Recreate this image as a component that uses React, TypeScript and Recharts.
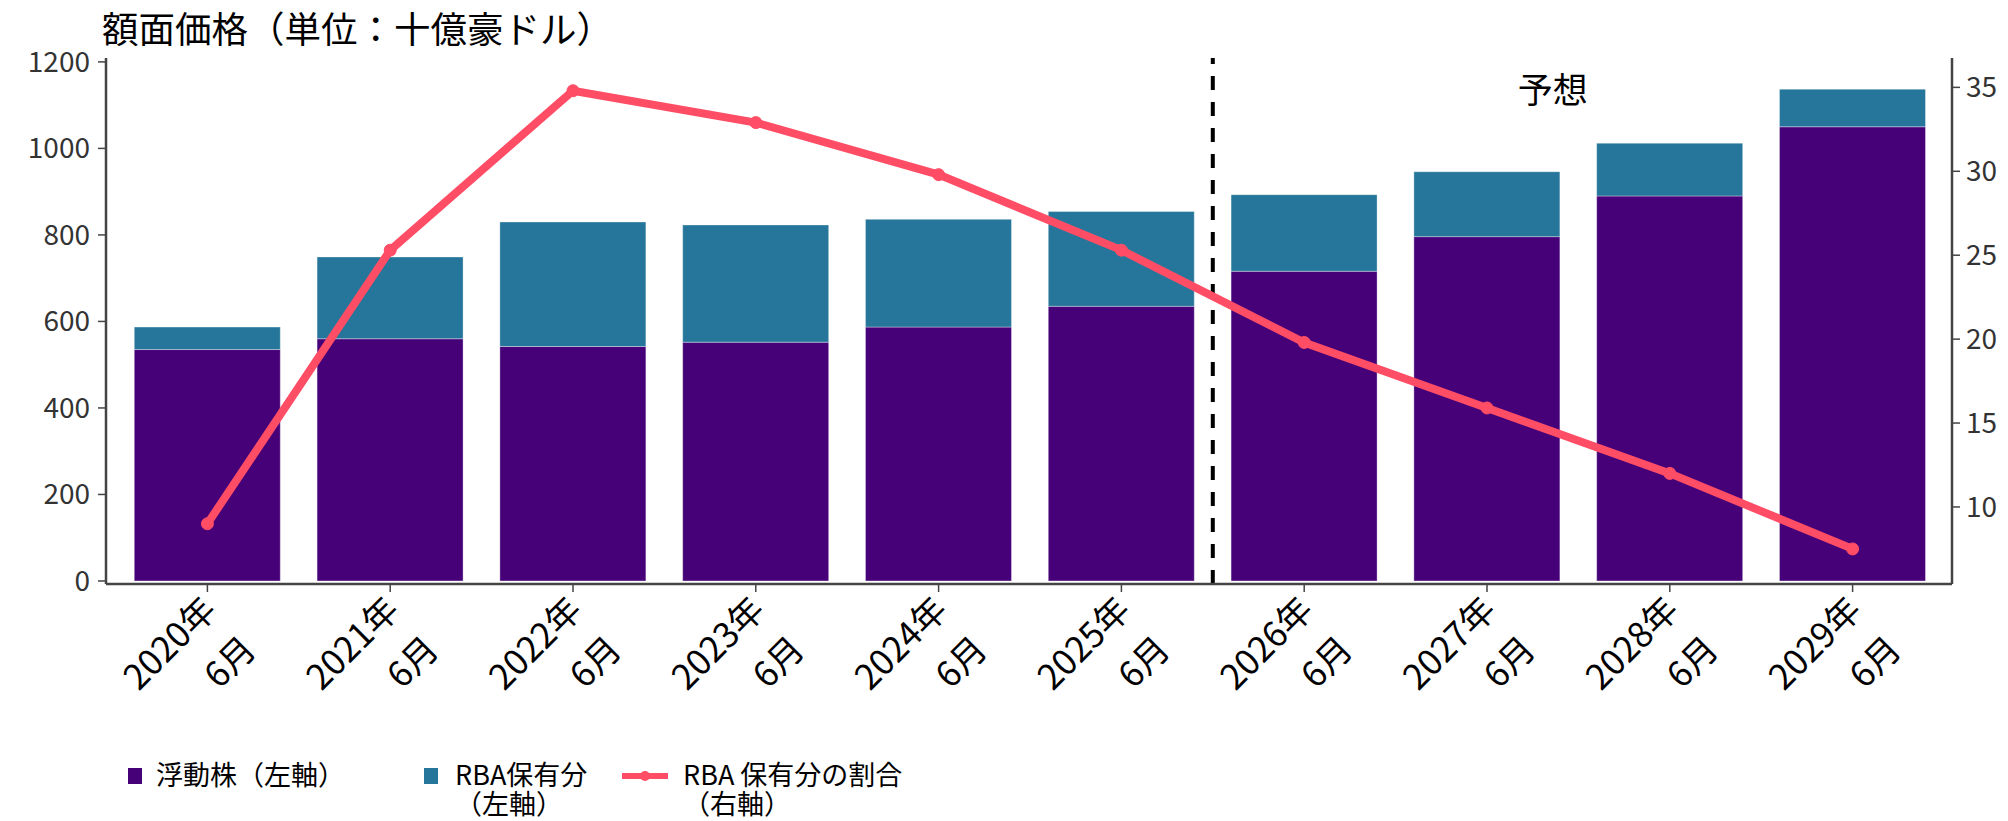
import React from 'react';
import {
  ComposedChart,
  Bar,
  Line,
  XAxis,
  YAxis,
  ReferenceLine,
} from 'recharts';

const categories = ['2020-06', '2021-06', '2022-06', '2023-06', '2024-06', '2025-06', '2026-06', '2027-06', '2028-06', '2029-06'];
const yearLabels = ['2020年', '2021年', '2022年', '2023年', '2024年', '2025年', '2026年', '2027年', '2028年', '2029年'];
const monthLabels = ['6月', '6月', '6月', '6月', '6月', '6月', '6月', '6月', '6月', '6月'];
const floatValues = [535, 560, 542, 552, 587, 635, 716, 796, 890, 1050];
const rbaValues = [52, 189, 288, 271, 249, 219, 177, 150, 122, 87];
const rbaShareValues = [9.0, 25.3, 34.8, 32.9, 29.8, 25.3, 19.8, 15.9, 12.0, 7.5];
const leftTicks = [0, 200, 400, 600, 800, 1000, 1200];
const rightTicks = [10, 15, 20, 25, 30, 35];
const forecastStart = '2026-06';

const titleText = '額面価格（単位：十億豪ドル）';
const forecastText = '予想';
const legendFloat = '浮動株（左軸）';
const legendRba = ['RBA保有分', '（左軸）'];
const legendShare = ['RBA 保有分の割合', '（右軸）'];

const PURPLE = '#460078';
const TEAL = '#25769A';
const RED = '#FF4D66';
const AXIS = '#444444';
const FONT = '"Noto Sans CJK JP", "Noto Sans", sans-serif';

const data = categories.map((c, i) => ({
  category: c,
  float: floatValues[i],
  rba: rbaValues[i],
  share: rbaShareValues[i],
}));

const XTick = (props: any) => {
  const { x, y, index } = props;
  return (
    <g transform={`translate(${x + 11},${y + 18})`}>
      <text transform="rotate(-45)" textAnchor="end" fontSize={35} fill="#000" fontFamily={FONT}>
        <tspan x={0} y={0}>{yearLabels[index]}</tspan>
        <tspan x={0} y={56}>{monthLabels[index]}</tspan>
      </text>
    </g>
  );
};

const ForecastLabel = (props: any) => {
  const vb = props.viewBox || {};
  return (
    <text x={vb.x + 340} y={vb.y + 29} textAnchor="middle" dominantBaseline="central" fontSize={35} fill="#000" fontFamily={FONT}>
      {forecastText}
    </text>
  );
};

export default function App() {
  return (
    <div style={{ position: 'absolute', left: 0, top: 0, width: 2008, height: 821, background: '#fff', fontFamily: FONT }}>
      <div style={{ position: 'absolute', left: 102, top: 9, fontSize: 36.5, lineHeight: '38px', color: '#000', whiteSpace: 'nowrap' }}>
        {titleText}
      </div>
      <ComposedChart
        width={2008}
        height={821}
        data={data}
        margin={{ top: 58, right: 0, bottom: 117, left: 26 }}
        barCategoryGap="10%"
        style={{ fontFamily: FONT }}
      >
        <XAxis
          xAxisId="cat"
          dataKey="category"
          interval={0}
          tick={<XTick />}
          tickSize={8}
          height={120}
          padding={{ left: 10, right: 8 }}
          axisLine={{ stroke: AXIS, strokeWidth: 2.5 }}
          tickLine={{ stroke: AXIS, strokeWidth: 1.5 }}
        />
        <YAxis
          yAxisId="left"
          orientation="left"
          width={80}
          domain={[-7, 1209]}
          ticks={leftTicks}
          interval={0}
          tickSize={8}
          tickMargin={8}
          axisLine={{ stroke: AXIS, strokeWidth: 2.5 }}
          tickLine={{ stroke: AXIS, strokeWidth: 1.5 }}
          tick={{ fontSize: 28, fill: '#333', fontFamily: FONT }}
        />
        <YAxis
          yAxisId="right"
          orientation="right"
          width={56}
          domain={[5.41, 36.75]}
          ticks={rightTicks}
          interval={0}
          tickSize={8}
          tickMargin={6}
          axisLine={{ stroke: AXIS, strokeWidth: 2.5 }}
          tickLine={{ stroke: AXIS, strokeWidth: 1.5 }}
          tick={{ fontSize: 28, fill: '#333', fontFamily: FONT }}
        />
        <Bar xAxisId="cat" yAxisId="left" dataKey="float" stackId="a" fill={PURPLE} stroke="rgba(255,255,255,0.35)" strokeWidth={1} isAnimationActive={false} />
        <Bar xAxisId="cat" yAxisId="left" dataKey="rba" stackId="a" fill={TEAL} stroke="rgba(255,255,255,0.35)" strokeWidth={1} isAnimationActive={false} />
        <ReferenceLine
          xAxisId="cat"
          yAxisId="left"
          x={forecastStart}
          position="start"
          stroke="#000"
          strokeWidth={4}
          strokeDasharray="14 12"
          label={<ForecastLabel />}
        />
        <Line
          xAxisId="cat"
          yAxisId="right"
          dataKey="share"
          stroke={RED}
          strokeWidth={8}
          dot={{ r: 6, fill: RED, stroke: RED, strokeWidth: 1 }}
          isAnimationActive={false}
        />
      </ComposedChart>
      <svg style={{ position: 'absolute', left: 0, top: 0 }} width={2008} height={821} pointerEvents="none">
        <g fontFamily={FONT} fontSize={27} fill="#000">
          <rect x={128} y={768} width={14} height={16} fill={PURPLE} />
          <text x={156} y={785}>{legendFloat}</text>
          <rect x={424} y={768} width={14} height={16} fill={TEAL} />
          <text x={455} y={785}>{legendRba[0]}</text>
          <text x={455} y={814}>{legendRba[1]}</text>
          <line x1={622} y1={776} x2={668} y2={776} stroke={RED} strokeWidth={6} />
          <circle cx={645} cy={776} r={5} fill={RED} />
          <text x={683} y={785}>{legendShare[0]}</text>
          <text x={683} y={814}>{legendShare[1]}</text>
        </g>
      </svg>
    </div>
  );
}
